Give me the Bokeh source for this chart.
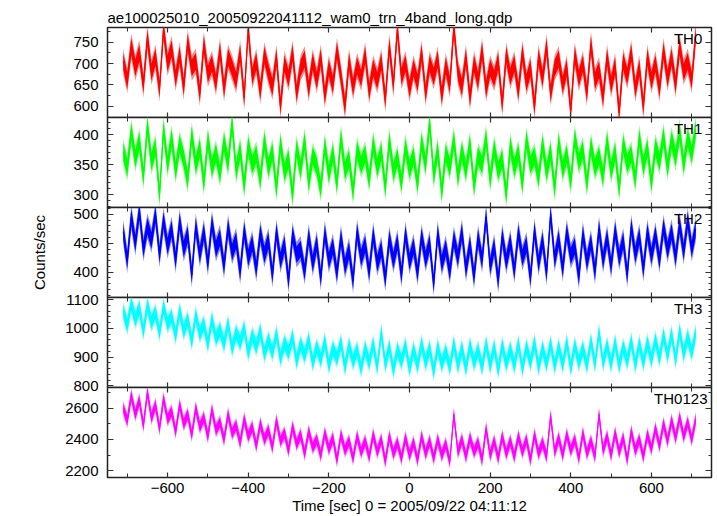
from bokeh.plotting import figure
from bokeh.layouts import column
from bokeh.models import LinearAxis, Range1d, Label, SingleIntervalTicker
from bokeh.embed import file_html
from bokeh.resources import INLINE

FONT = "Liberation Sans"
title_text = "ae100025010_20050922041112_wam0_trn_4band_long.qdp"
x_label = "Time [sec] 0 = 2005/09/22 04:11:12"
y_label = "Counts/sec"

# sample times (s)
time_s = list(range(-710, 711, 10))

x_tick_values = [-600, -400, -200, 0, 200, 400, 600]
x_tick_labels = ["\u2212600", "\u2212400", "\u2212200", "0", "200", "400", "600"]

# count rates (counts/sec), one value per 10 s, read/
th0 = [705, 660, 740, 690, 725, 650, 760, 680, 715, 640, 780, 700,
       735, 665, 720, 645, 750, 690, 705, 630, 745, 675, 700, 655,
       730, 640, 715, 690, 660, 725, 620, 780, 670, 705, 635, 720,
       680, 645, 715, 600, 700, 665, 725, 630, 690, 710, 640, 705,
       660, 715, 625, 690, 650, 730, 670, 600, 705, 645, 695, 665,
       720, 635, 690, 660, 705, 615, 740, 650, 780, 670, 700, 640,
       690, 655, 725, 630, 700, 670, 710, 625, 695, 650, 785, 680,
       645, 715, 620, 700, 660, 730, 640, 690, 665, 705, 605, 720,
       670, 700, 635, 725, 655, 690, 600, 715, 665, 740, 630, 690,
       710, 650, 690, 590, 720, 665, 700, 630, 745, 660, 685, 620,
       715, 650, 695, 585, 705, 670, 725, 640, 690, 600, 715, 660,
       700, 640, 730, 665, 715, 650, 740, 680, 705, 660, 770]
th1 = [372, 345, 405, 360, 390, 330, 415, 355, 380, 300, 410, 350,
       395, 340, 385, 360, 325, 400, 350, 378, 320, 392, 345, 370,
       335, 388, 352, 420, 340, 375, 315, 382, 350, 368, 325, 390,
       345, 372, 310, 385, 338, 360, 300, 378, 342, 390, 320, 365,
       348, 310, 382, 335, 370, 318, 395, 340, 360, 305, 375, 350,
       368, 325, 385, 345, 372, 312, 390, 338, 362, 320, 380, 342,
       365, 318, 388, 350, 420, 332, 375, 305, 370, 345, 392, 330,
       372, 340, 385, 315, 365, 350, 395, 325, 378, 340, 360, 300,
       382, 345, 370, 318, 392, 350, 365, 328, 385, 338, 372, 310,
       388, 342, 368, 322, 395, 355, 375, 318, 382, 345, 365, 330,
       390, 340, 372, 310, 385, 352, 368, 325, 395, 348, 378, 320,
       380, 355, 398, 345, 392, 362, 405, 350, 395, 368, 410]
th2 = [470, 420, 495, 450, 505, 440, 480, 455, 500, 430, 490, 445,
       475, 420, 488, 440, 465, 395, 480, 430, 470, 415, 485, 440,
       460, 410, 478, 435, 455, 400, 472, 425, 450, 405, 468, 430,
       455, 395, 470, 420, 448, 385, 465, 430, 440, 400, 462, 415,
       450, 390, 468, 420, 445, 398, 460, 410, 438, 385, 470, 425,
       448, 400, 465, 415, 440, 388, 458, 420, 452, 395, 466, 418,
       445, 398, 462, 422, 450, 380, 468, 415, 442, 400, 458, 425,
       470, 405, 448, 392, 460, 420, 496, 410, 445, 385, 462, 418,
       452, 402, 468, 425, 448, 390, 472, 415, 455, 398, 500, 422,
       458, 405, 470, 428, 445, 392, 466, 418, 452, 400, 475, 420,
       460, 410, 472, 425, 455, 395, 478, 430, 462, 405, 470, 428,
       465, 420, 478, 438, 470, 425, 482, 435, 490, 440, 475]
th3 = [1060, 1010, 1085, 1030, 1070, 990, 1080, 1020, 1055, 985, 1075, 1015,
       1040, 975, 1060, 990, 1030, 955, 1045, 980, 1015, 945, 1030, 965,
       995, 945, 1015, 930, 985, 950, 1000, 915, 975, 935, 990, 910,
       960, 915, 980, 895, 950, 915, 970, 885, 945, 905, 960, 880,
       935, 890, 955, 870, 930, 895, 950, 865, 940, 885, 925, 860,
       930, 880, 945, 865, 985, 875, 935, 855, 925, 885, 940, 860,
       925, 870, 945, 880, 930, 850, 935, 875, 920, 865, 945, 870,
       930, 860, 940, 880, 925, 865, 945, 870, 935, 855, 940, 875,
       928, 870, 945, 860, 935, 880, 950, 865, 930, 875, 945, 868,
       935, 872, 950, 862, 940, 880, 930, 870, 955, 875, 985, 880,
       940, 875, 950, 870, 935, 885, 955, 872, 945, 880, 950, 890,
       960, 895, 975, 905, 980, 890, 990, 910, 970, 915, 985]
th0123 = [2600, 2520, 2680, 2560, 2650, 2490, 2700, 2540, 2620, 2470, 2660, 2530,
          2580, 2450, 2620, 2500, 2560, 2430, 2600, 2480, 2540, 2420, 2590, 2460,
          2510, 2400, 2560, 2440, 2490, 2380, 2530, 2420, 2480, 2360, 2500, 2400,
          2460, 2350, 2520, 2390, 2440, 2330, 2480, 2370, 2430, 2310, 2450, 2350,
          2400, 2300, 2440, 2340, 2410, 2270, 2430, 2330, 2390, 2280, 2420, 2320,
          2390, 2290, 2430, 2320, 2400, 2260, 2420, 2310, 2380, 2280, 2410, 2300,
          2380, 2270, 2420, 2310, 2390, 2280, 2400, 2300, 2370, 2260, 2560, 2320,
          2400, 2290, 2410, 2320, 2380, 2270, 2470, 2300, 2390, 2280, 2420, 2310,
          2390, 2290, 2420, 2320, 2400, 2270, 2430, 2310, 2380, 2290, 2550, 2320,
          2410, 2300, 2430, 2330, 2400, 2280, 2440, 2310, 2390, 2290, 2560, 2330,
          2420, 2300, 2440, 2320, 2410, 2270, 2450, 2330, 2400, 2290, 2430, 2340,
          2470, 2360, 2500, 2390, 2520, 2410, 2540, 2420, 2510, 2400, 2530]

# typical error of one sample, per band
rate_errors = [30, 22, 22, 35, 50]

panel_names = ["TH0", "TH1", "TH2", "TH3", "TH0123"]
panel_colors = ["#ff0000", "#00ff00", "#0000ff", "#00ffff", "#ff00ff"]
panel_rates = [th0, th1, th2, th3, th0123]
panel_yrange = [(574, 784), (279, 429), (356, 512), (794, 1107), (2157, 2732)]
panel_tick_interval = [50, 50, 50, 100, 200]
panel_minor = [2, 5, 5, 5, 2]
label_x = [726, 726, 726, 726, 739]

FW = 604
PH = 90
LEFT = 107
RIGHT = 5
TOP = 27
BOTTOM = 38
E = 10
CORE = 0.65   # fraction of the error drawn as the saturated core
TICK_COLOR = "#333333"

xr = Range1d(-749, 749)


def style_axis(ax, show_labels, major_in, minor_in):
    ax.axis_line_color = None
    ax.major_tick_in = major_in
    ax.major_tick_out = 0
    ax.minor_tick_in = minor_in
    ax.minor_tick_out = 0
    ax.major_tick_line_color = TICK_COLOR
    ax.minor_tick_line_color = TICK_COLOR
    ax.major_tick_line_width = 1.2
    ax.minor_tick_line_width = 1
    if show_labels:
        ax.major_label_text_font = FONT
        ax.major_label_text_font_size = "15px"
        ax.major_label_text_color = "black"
    else:
        ax.major_label_text_color = None
        ax.major_label_standoff = 0


figs = []
n = len(panel_names)
for i in range(n):
    first = i == 0
    last = i == n - 1
    y0, y1 = panel_yrange[i]
    p = figure(frame_width=FW, frame_height=PH, x_range=xr, y_range=Range1d(y0, y1),
               output_backend="svg", toolbar_location=None,
               min_border_left=LEFT, min_border_right=RIGHT,
               min_border_top=(TOP if first else E),
               min_border_bottom=(BOTTOM if last else E),
               x_axis_location=None, y_axis_location=None,
               title=(title_text if first else None))
    if first:
        p.title.text_font = FONT
        p.title.text_font_size = "15px"
        p.title.text_font_style = "normal"
        p.title.align = "left"
        p.title.standoff = 4
        p.title.text_color = "black"
    else:
        p.margin = (-2 * E, 0, 0, 0)
    p.grid.visible = False
    p.outline_line_color = "#222222"
    p.outline_line_width = 1.5
    p.background_fill_color = "white"
    p.border_fill_color = None
    p.border_fill_alpha = 0

    bx = LinearAxis(ticker=SingleIntervalTicker(interval=200, num_minor_ticks=2))
    style_axis(bx, last, 5, 4)
    if last:
        bx.major_label_overrides = dict(zip(x_tick_values, x_tick_labels))
        bx.major_label_standoff = 5
        bx.axis_label = x_label
        bx.axis_label_text_font = FONT
        bx.axis_label_text_font_size = "15px"
        bx.axis_label_text_font_style = "normal"
        bx.axis_label_text_color = "black"
        bx.axis_label_standoff = 1
    p.add_layout(bx, "below")
    ax_top = LinearAxis(ticker=SingleIntervalTicker(interval=200, num_minor_ticks=2))
    style_axis(ax_top, False, 5, 4)
    p.add_layout(ax_top, "above")

    ly = LinearAxis(ticker=SingleIntervalTicker(interval=panel_tick_interval[i],
                                                 num_minor_ticks=panel_minor[i]))
    style_axis(ly, True, 6, 3)
    ly.major_label_standoff = 9
    if i == 2:
        ly.axis_label = y_label
        ly.axis_label_text_font = FONT
        ly.axis_label_text_font_size = "15px"
        ly.axis_label_text_font_style = "normal"
        ly.axis_label_text_color = "black"
        ly.axis_label_standoff = 22
    p.add_layout(ly, "left")
    ry = LinearAxis(ticker=SingleIntervalTicker(interval=panel_tick_interval[i],
                                                 num_minor_ticks=panel_minor[i]))
    style_axis(ry, False, 6, 3)
    p.add_layout(ry, "right")

    rates = panel_rates[i]
    err = rate_errors[i]
    col = panel_colors[i]
    # error band (light) and core (saturated) around the light curve
    p.varea(x=time_s, y1=[r - err for r in rates], y2=[r + err for r in rates],
            fill_color=col, fill_alpha=0.45)
    p.varea(x=time_s, y1=[r - CORE * err for r in rates], y2=[r + CORE * err for r in rates],
            fill_color=col, fill_alpha=1.0)
    p.line(x=time_s, y=rates, line_color=col, line_width=1)

    p.add_layout(Label(x=label_x[i], y=y1 - 0.03 * (y1 - y0), text=panel_names[i],
                       text_align="right", text_baseline="top", text_font=FONT,
                       text_font_size="15px", text_color="black"))
    figs.append(p)

layout = column(*figs, spacing=0)
open("out.html", "w").write(file_html(layout, INLINE))
